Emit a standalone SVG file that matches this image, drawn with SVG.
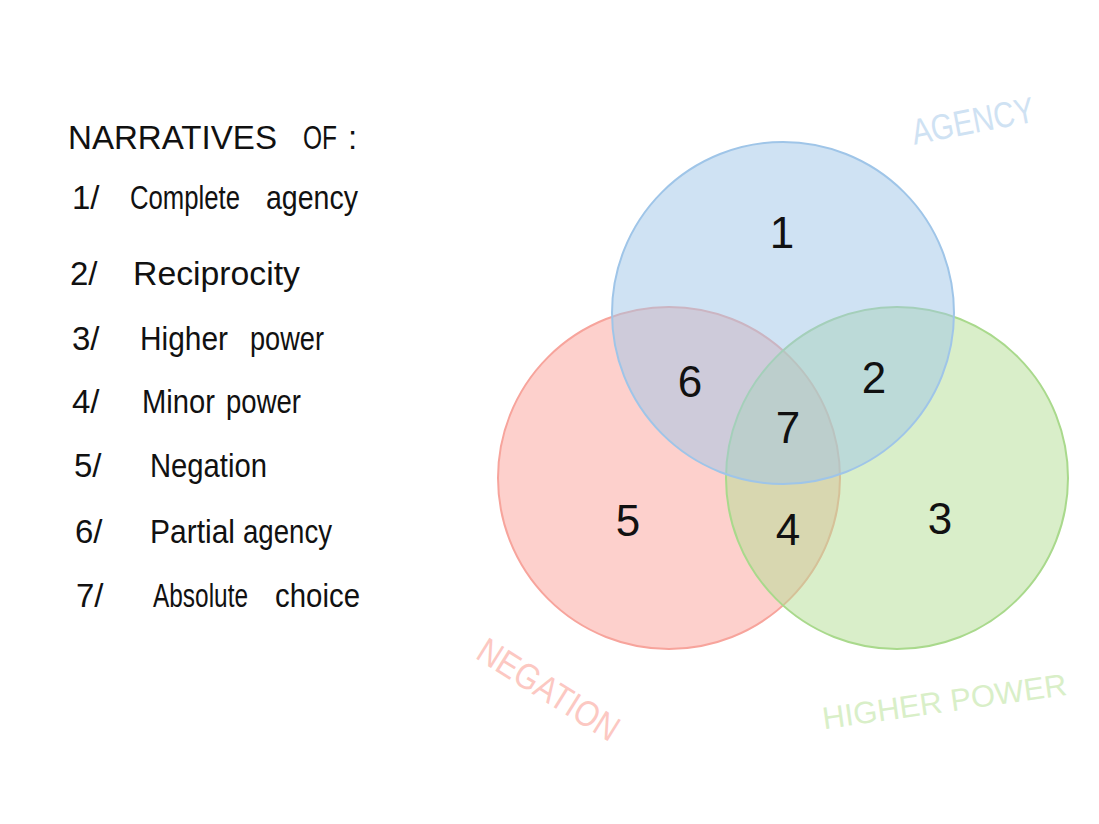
<svg xmlns="http://www.w3.org/2000/svg" width="1099" height="824" viewBox="0 0 1099 824">
  <style>
    .hand { font-family: "Liberation Sans", "DejaVu Sans", sans-serif; fill: #111; }
    .list { font-size: 33px; }
    .num { font-size: 44px; text-anchor: middle; }
    .set { stroke-width: 2; fill-opacity: 0.5; }
    .lbl { font-family: "Liberation Sans", "DejaVu Sans", sans-serif; font-size: 36px; text-anchor: middle; }
  </style>
  <rect width="1099" height="824" fill="#ffffff"/>

  <g id="legend">
    <g id="legend-title">
      <text class="hand list" x="68" y="149" textLength="209" lengthAdjust="spacingAndGlyphs">NARRATIVES</text>
      <text class="hand list" x="303" y="149" textLength="34" lengthAdjust="spacingAndGlyphs">OF</text>
      <text class="hand list" x="348" y="149">:</text>
    </g>
    <g id="legend-1">
      <text class="hand list" x="72" y="209">1/</text>
      <text class="hand list" x="130" y="209" textLength="110" lengthAdjust="spacingAndGlyphs">Complete</text>
      <text class="hand list" x="266" y="209" textLength="92" lengthAdjust="spacingAndGlyphs">agency</text>
    </g>
    <g id="legend-2">
      <text class="hand list" x="70" y="285">2/</text>
      <text class="hand list" x="133" y="285" textLength="167" lengthAdjust="spacingAndGlyphs">Reciprocity</text>
    </g>
    <g id="legend-3">
      <text class="hand list" x="72" y="350">3/</text>
      <text class="hand list" x="140" y="350" textLength="88" lengthAdjust="spacingAndGlyphs">Higher</text>
      <text class="hand list" x="250" y="350" textLength="74" lengthAdjust="spacingAndGlyphs">power</text>
    </g>
    <g id="legend-4">
      <text class="hand list" x="72" y="413">4/</text>
      <text class="hand list" x="142" y="413" textLength="73" lengthAdjust="spacingAndGlyphs">Minor</text>
      <text class="hand list" x="226" y="413" textLength="75" lengthAdjust="spacingAndGlyphs">power</text>
    </g>
    <g id="legend-5">
      <text class="hand list" x="74" y="477">5/</text>
      <text class="hand list" x="150" y="477" textLength="117" lengthAdjust="spacingAndGlyphs">Negation</text>
    </g>
    <g id="legend-6">
      <text class="hand list" x="75" y="543">6/</text>
      <text class="hand list" x="150" y="543" textLength="85" lengthAdjust="spacingAndGlyphs">Partial</text>
      <text class="hand list" x="243" y="543" textLength="89" lengthAdjust="spacingAndGlyphs">agency</text>
    </g>
    <g id="legend-7">
      <text class="hand list" x="76" y="607">7/</text>
      <text class="hand list" x="153" y="607" textLength="95" lengthAdjust="spacingAndGlyphs">Absolute</text>
      <text class="hand list" x="275" y="607" textLength="85" lengthAdjust="spacingAndGlyphs">choice</text>
    </g>
  </g>

  <g id="set-negation">
    <circle class="set" cx="669" cy="478" r="171" fill="#fba199" stroke="#f7a49c"/>
  </g>
  <g id="set-higher-power">
    <circle class="set" cx="897" cy="478" r="171" fill="#b3dd93" stroke="#a9d98c"/>
  </g>
  <g id="set-agency">
    <circle class="set" cx="783" cy="313" r="171" fill="#9fc5e7" stroke="#9fc5e8"/>
  </g>

  <g id="region-1"><text class="hand num" x="782" y="248">1</text></g>
  <g id="region-2"><text class="hand num" x="874" y="393">2</text></g>
  <g id="region-3"><text class="hand num" x="940" y="534">3</text></g>
  <g id="region-4"><text class="hand num" x="788" y="545">4</text></g>
  <g id="region-5"><text class="hand num" x="628" y="536">5</text></g>
  <g id="region-6"><text class="hand num" x="690" y="397">6</text></g>
  <g id="region-7"><text class="hand num" x="788" y="443">7</text></g>

  <g id="label-agency">
    <text class="lbl" x="0" y="0" fill="#cfe2f3" textLength="124" lengthAdjust="spacingAndGlyphs" transform="translate(975,133) rotate(-11)">AGENCY</text>
  </g>
  <g id="label-negation">
    <text class="lbl" x="0" y="0" fill="#fcc8c2" textLength="160" lengthAdjust="spacingAndGlyphs" transform="translate(542,700) rotate(32)">NEGATION</text>
  </g>
  <g id="label-higher-power">
    <text class="lbl" x="0" y="0" fill="#d9efc8" style="font-size:31px" transform="translate(946,712) rotate(-8)">HIGHER POWER</text>
  </g>
</svg>
